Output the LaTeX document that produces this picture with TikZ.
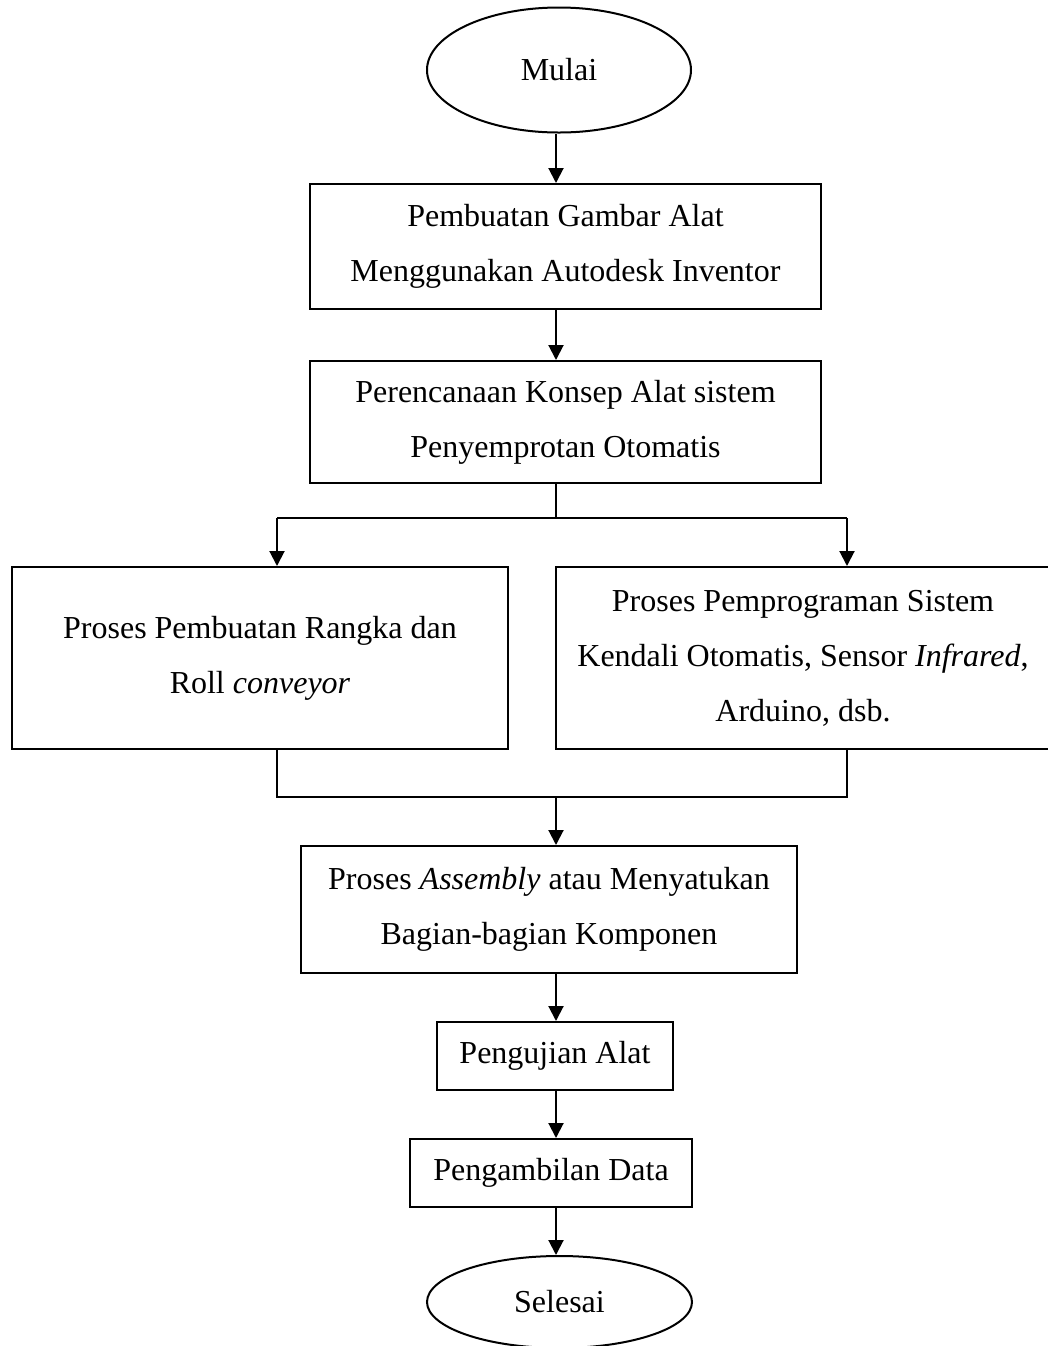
\documentclass[tikz,border=0pt]{standalone}
\usepackage{fontspec}
\setmainfont{Liberation Serif}
\usetikzlibrary{arrows.meta,positioning,shapes.geometric}

\tikzset{
  proses/.style={draw,line width=1pt,rectangle,inner sep=0pt,align=center,
    font=\fontsize{16}{27.5}\selectfont},
  terminal/.style={draw,line width=1pt,ellipse,inner sep=0pt,
    font=\fontsize{16}{19}\selectfont},
  alur/.style={line width=1pt,-{Triangle[width=7.5pt,length=7.5pt]}},
  garis/.style={line width=1pt},
}

\begin{document}
\begin{tikzpicture}[x=0.5pt,y=-0.5pt]
  \useasboundingbox (0,0) rectangle (1048,1346);

  % sumbu alur utama
  \coordinate (sumbu) at (556,0);
  \coordinate (cabang) at (556,518);
  \coordinate (kiri) at (277,518);
  \coordinate (kanan) at (847,518);
  \coordinate (gabung) at (556,797);

  \node[terminal,minimum width=132pt,minimum height=62.5pt] (mulai) at (559,70) {Mulai};
  \node[proses,minimum width=255.5pt,minimum height=62.5pt] (gambar) at (565.5,246.5)
    {Pembuatan Gambar Alat\\Menggunakan Autodesk Inventor};
  \node[proses,minimum width=255.5pt,minimum height=61pt] (konsep) at (565.5,422)
    {Perencanaan Konsep Alat sistem\\Penyemprotan Otomatis};
  \node[proses,minimum width=248pt,minimum height=91pt] (rangka) at (260,658)
    {Proses Pembuatan Rangka dan\\Roll \textit{conveyor}};
  \node[proses,minimum width=247pt,minimum height=91pt] (program) at (803,658)
    {Proses Pemprograman Sistem\\Kendali Otomatis, Sensor \textit{Infrared},\\Arduino, dsb.};
  \node[proses,minimum width=248pt,minimum height=63.5pt] (assembly) at (549,909.5)
    {Proses \textit{Assembly} atau Menyatukan\\Bagian-bagian Komponen};
  \node[proses,minimum width=118pt,minimum height=34pt] (uji) at (555,1056) {Pengujian Alat};
  \node[proses,minimum width=141pt,minimum height=34pt] (data) at (551,1173) {Pengambilan Data};
  \node[terminal,minimum width=132.5pt,minimum height=46pt] (selesai) at (559.5,1302) {Selesai};

  \draw[alur] (sumbu |- mulai.south) -- (sumbu |- gambar.north);
  \draw[alur] (sumbu |- gambar.south) -- (sumbu |- konsep.north);
  \draw[garis] (sumbu |- konsep.south) -- (cabang);
  \draw[garis] (kiri) -- (kanan);
  \draw[alur] (kiri) -- (kiri |- rangka.north);
  \draw[alur] (kanan) -- (kanan |- program.north);

  \draw[garis] (kiri |- rangka.south) -- (kiri |- gabung) -- (kanan |- gabung) -- (kanan |- program.south);
  \draw[alur] (gabung) -- (sumbu |- assembly.north);
  \draw[alur] (sumbu |- assembly.south) -- (sumbu |- uji.north);
  \draw[alur] (sumbu |- uji.south) -- (sumbu |- data.north);
  \draw[alur] (sumbu |- data.south) -- (sumbu |- selesai.north);
\end{tikzpicture}
\end{document}
